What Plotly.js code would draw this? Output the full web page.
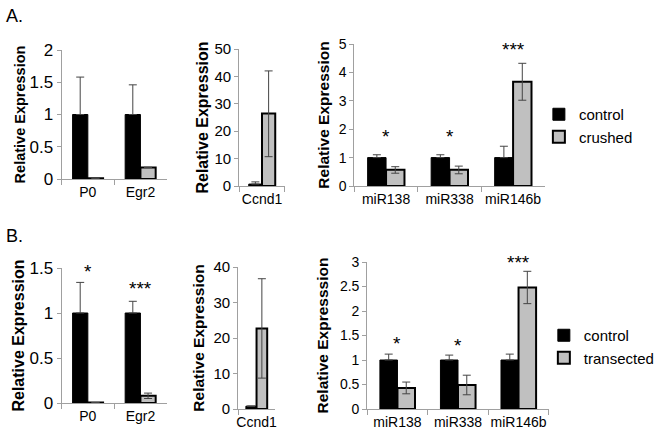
<!DOCTYPE html>
<html><head><meta charset="utf-8">
<script src="https://cdn.plot.ly/plotly-3.0.1.min.js"></script>
<style>html,body{margin:0;padding:0;background:#fff}</style>
</head><body><div id="chart" style="width:660px;height:433px"></div>
<script>
// ---------- categories ----------
const genes = ["P0", "Egr2"];
const ccnd = ["Ccnd1"];
const mirs = ["miR138", "miR338", "miR146b"];

// ---------- Panel A (control vs crushed) ----------
const aGeneControl = [1, 1];
const aGeneControlErr = [0.58, 0.46];
const aGeneCrushed = [0.01, 0.18];
const aGeneCrushedErr = [0, 0];
const aCcndControl = [0.7];
const aCcndControlErr = [0.8];
const aCcndCrushed = [26.5];
const aCcndCrushedErrUp = [15.5];
const aCcndCrushedErrDown = [15.8];
const aMirControl = [1, 1, 1];
const aMirControlErr = [0.1, 0.1, 0.4];
const aMirCrushed = [0.57, 0.57, 3.67];
const aMirCrushedErrUp = [0.11, 0.13, 0.65];
const aMirCrushedErrDown = [0.12, 0.14, 0.65];
const aMirSig = ["*", "*", "***"];
const aMirSigY = [1.75, 1.75, 4.8];

// ---------- Panel B (control vs transected) ----------
const bGeneControl = [1, 1];
const bGeneControlErr = [0.34, 0.13];
const bGeneTransected = [0.005, 0.08];
const bGeneTransectedErr = [0, 0.03];
const bGeneSig = ["*", "***"];
const bGeneSigY = [1.46, 1.27];
const bCcndControl = [0.8];
const bCcndControlErr = [0];
const bCcndTransected = [22.7];
const bCcndTransectedErr = [14];
const bMirControl = [1, 1, 1];
const bMirControlErr = [0.12, 0.1, 0.12];
const bMirTransected = [0.43, 0.49, 2.48];
const bMirTransectedErr = [0.12, 0.2, 0.33];
const bMirSig = ["*", "*", "***"];
const bMirSigY = [1.33, 1.29, 3.0];

const W = 660, H = 433;
const FONT = "Liberation Sans, Arial, sans-serif";
const GRAY = "#c0c0c0";

function bar(x, y, up, down, isControl, idx, name, legendId, showLegend) {
  return {
    type: "bar", x: x, y: y, name: name,
    xaxis: "x" + (idx === 1 ? "" : idx), yaxis: "y" + (idx === 1 ? "" : idx),
    legend: legendId, showlegend: showLegend, legendgroup: legendId + name,
    marker: { color: isControl ? "#000" : GRAY, line: { color: "#000", width: isControl ? 1 : 2 } },
    error_y: { type: "data", symmetric: false, array: up, arrayminus: down,
      color: "#444", thickness: 1, width: 4, visible: true },
    hoverinfo: "skip"
  };
}
const zeros = n => new Array(n).fill(0);

const data = [
  bar(genes, aGeneControl, aGeneControlErr, zeros(2), true, 1, "control", "legend", false),
  bar(genes, aGeneCrushed, aGeneCrushedErr, aGeneCrushedErr, false, 1, "crushed", "legend", false),
  bar(ccnd, aCcndControl, aCcndControlErr, zeros(1), true, 2, "control", "legend", false),
  bar(ccnd, aCcndCrushed, aCcndCrushedErrUp, aCcndCrushedErrDown, false, 2, "crushed", "legend", false),
  bar(mirs, aMirControl, aMirControlErr, zeros(3), true, 3, "control", "legend", true),
  bar(mirs, aMirCrushed, aMirCrushedErrUp, aMirCrushedErrDown, false, 3, "crushed", "legend", true),
  bar(genes, bGeneControl, bGeneControlErr, zeros(2), true, 4, "control", "legend2", false),
  bar(genes, bGeneTransected, bGeneTransectedErr, bGeneTransectedErr, false, 4, "transected", "legend2", false),
  bar(ccnd, bCcndControl, bCcndControlErr, zeros(1), true, 5, "control", "legend2", false),
  bar(ccnd, bCcndTransected, bCcndTransectedErr, bCcndTransectedErr, false, 5, "transected", "legend2", false),
  bar(mirs, bMirControl, bMirControlErr, zeros(3), true, 6, "control", "legend2", true),
  bar(mirs, bMirTransected, bMirTransectedErr, bMirTransectedErr, false, 6, "transected", "legend2", true)
];

// pixel boxes: [left, right, top, bottom]
const boxes = [
  [62, 168, 50, 179],
  [241, 287, 49, 186],
  [357, 549, 44, 186],
  [62, 168, 268, 403],
  [240, 277, 267, 409],
  [370, 553, 262, 409]
];
const yRanges = [[0, 2], [0, 50], [0, 5], [0, 1.5], [0, 40], [0, 3]];
const yDticks = [0.5, 10, 1, 0.5, 10, 0.5];
const yTickSize = [17, 15, 14, 17, 15, 14];
const xTickSize = [14, 14, 14, 14, 14, 14];
const yTitles = ["Relative Expression", "Relative Expression", "Relative Expression",
                 "Relative Expression", "Relative Expression", "Relative Expresssion"];
const yTitleSize = [14.5, 16, 15.5, 16, 15.5, 15.5];
const yStandoff = [0, 1, 5, 0, 5, 7];

const layout = {
  width: W, height: H, autosize: false,
  margin: { l: 0, r: 0, t: 0, b: 0, pad: 0 },
  paper_bgcolor: "#fff", plot_bgcolor: "rgba(0,0,0,0)",
  font: { family: FONT, color: "#000" },
  barmode: "group", bargap: 0.42, bargroupgap: 0,
  legend: { x: 543 / W, y: 1 - 98 / H, xanchor: "left", yanchor: "top",
    font: { family: FONT, size: 15, color: "#000" }, bgcolor: "rgba(0,0,0,0)",
    tracegroupgap: 8, traceorder: "normal" },
  legend2: { x: 548 / W, y: 1 - 319 / H, xanchor: "left", yanchor: "top",
    font: { family: FONT, size: 15, color: "#000" }, bgcolor: "rgba(0,0,0,0)",
    tracegroupgap: 7, traceorder: "normal" },
  annotations: [],
  showlegend: true
};

boxes.forEach((b, i) => {
  const k = i + 1, s = k === 1 ? "" : k;
  layout["xaxis" + s] = {
    domain: [b[0] / W, b[1] / W], anchor: "y" + s, type: "category",
    showline: true, linecolor: "#a0a0a0", linewidth: 1,
    ticks: "outside", tickson: "boundaries", ticklen: 5, tickcolor: "#a0a0a0",
    showgrid: false, zeroline: false, automargin: false, tickangle: 0,
    tickfont: { family: FONT, size: xTickSize[i], color: "#000" }
  };
  layout["yaxis" + s] = {
    domain: [1 - b[3] / H, 1 - b[2] / H], anchor: "x" + s,
    range: yRanges[i], dtick: yDticks[i], tick0: 0,
    showline: true, linecolor: "#a0a0a0", linewidth: 1,
    ticks: "outside", ticklen: 4, tickcolor: "#a0a0a0",
    showgrid: false, zeroline: false, automargin: false,
    tickfont: { family: FONT, size: yTickSize[i], color: "#000" },
    title: { text: yTitles[i], standoff: yStandoff[i],
      font: { family: FONT, size: yTitleSize[i], color: "#000", weight: "bold" } }
  };
});

function sig(labels, cats, ys, axIdx, size) {
  const s = axIdx === 1 ? "" : axIdx;
  labels.forEach((t, j) => {
    layout.annotations.push({ text: t, x: cats[j], y: ys[j], xref: "x" + s, yref: "y" + s,
      showarrow: false, xanchor: "center", yanchor: "middle",
      font: { family: FONT, size: size, color: "#000" } });
  });
}
sig(aMirSig, mirs, aMirSigY, 3, 19);
sig(bGeneSig, genes, bGeneSigY, 4, 19);
sig(bMirSig, mirs, bMirSigY, 6, 19);

layout.annotations.push({ text: "A.", xref: "paper", yref: "paper", x: 4 / W, y: 1 - 4 / H,
  xanchor: "left", yanchor: "top", showarrow: false, font: { family: FONT, size: 18, color: "#000" } });
layout.annotations.push({ text: "B.", xref: "paper", yref: "paper", x: 4 / W, y: 1 - 224 / H,
  xanchor: "left", yanchor: "top", showarrow: false, font: { family: FONT, size: 18, color: "#000" } });

Plotly.newPlot("chart", data, layout, { staticPlot: true, displayModeBar: false });
</script>
</body></html>
